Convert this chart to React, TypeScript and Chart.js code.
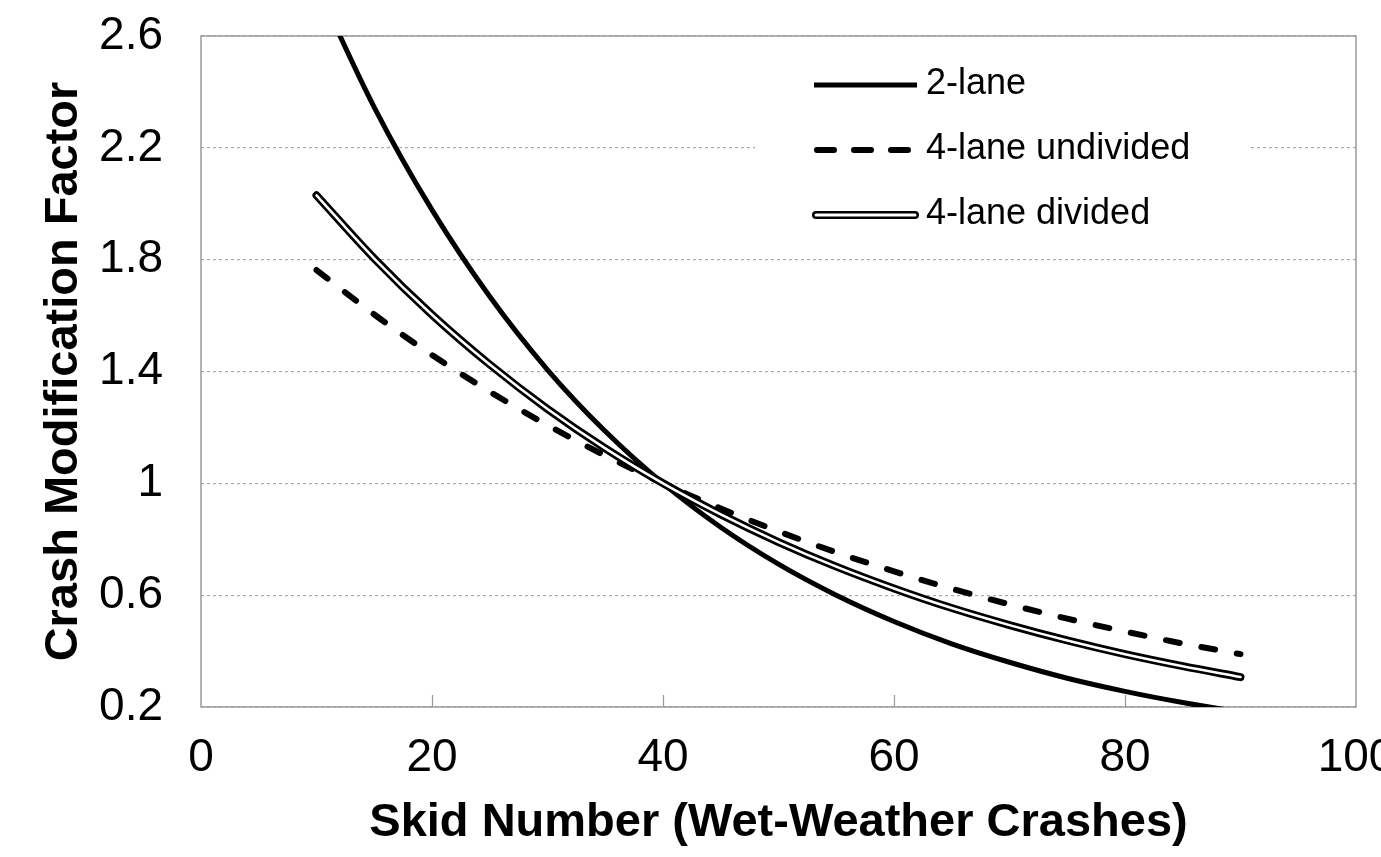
import React, { useEffect, useRef } from 'react';
import { Chart, registerables } from 'chart.js';

Chart.register(...registerables);

// ---- Data ----
const skidNumbers = [10, 15, 20, 25, 30, 35, 40, 45, 50, 55, 60, 65, 70, 75, 80, 85, 90];
const twoLaneCMF = [2.781, 2.345, 1.978, 1.668, 1.406, 1.186, 1.0, 0.843, 0.711, 0.6, 0.506, 0.426, 0.36, 0.303, 0.256, 0.216, 0.182];
const fourLaneUndividedCMF = [1.763, 1.604, 1.459, 1.328, 1.208, 1.099, 1.0, 0.91, 0.828, 0.753, 0.685, 0.623, 0.567, 0.516, 0.47, 0.427, 0.389];
const fourLaneDividedCMF = [2.03, 1.804, 1.603, 1.425, 1.266, 1.125, 1.0, 0.889, 0.79, 0.702, 0.624, 0.554, 0.493, 0.438, 0.389, 0.346, 0.307];
const xTickValues = [0, 20, 40, 60, 80, 100];
const yTickValues = [0.2, 0.6, 1, 1.4, 1.8, 2.2, 2.6];
const seriesNames = ['2-lane', '4-lane undivided', '4-lane divided'];
const xAxisTitle = 'Skid Number (Wet-Weather Crashes)';
const yAxisTitle = 'Crash Modification Factor';

const FONT = "'Liberation Sans', Arial, Helvetica, sans-serif";

const toPoints = (ys: number[]) => skidNumbers.map((x, i) => ({ x, y: ys[i] }));

const zeroPadding = (s: any) => {
  s.paddingLeft = 0;
  s.paddingRight = 0;
  s.paddingTop = 0;
  s.paddingBottom = 0;
};

const frameAndTicksPlugin = {
  id: 'frameAndTicks',
  beforeDatasetsDraw(chart: any) {
    const { ctx, chartArea } = chart;
    const xScale = chart.scales.x;
    ctx.save();
    ctx.strokeStyle = '#9a9a9a';
    ctx.lineWidth = 1.5;
    ctx.strokeRect(chartArea.left, chartArea.top, chartArea.right - chartArea.left, chartArea.bottom - chartArea.top);
    ctx.lineWidth = 1.2;
    xTickValues.forEach((v) => {
      if (v === xScale.min || v === xScale.max) return;
      const px = Math.round(xScale.getPixelForValue(v)) + 0.5;
      ctx.beginPath();
      ctx.moveTo(px, chartArea.bottom);
      ctx.lineTo(px, chartArea.bottom - 12);
      ctx.stroke();
    });
    ctx.restore();
  },
};

const legendPlugin = {
  id: 'insideLegend',
  afterDatasetsDraw(chart: any) {
    const { ctx } = chart;
    ctx.save();
    ctx.fillStyle = '#ffffff';
    ctx.fillRect(755, 52, 495, 195);
    const rows = [85, 150, 215];
    const x1 = 814;
    const x2 = 917;
    rows.forEach((y, i) => {
      ctx.lineCap = i === 0 ? 'butt' : 'round';
      ctx.setLineDash([]);
      if (i === 0) {
        ctx.strokeStyle = '#000';
        ctx.lineWidth = 5;
        ctx.beginPath();
        ctx.moveTo(x1, y);
        ctx.lineTo(x2, y);
        ctx.stroke();
      } else if (i === 1) {
        ctx.strokeStyle = '#000';
        ctx.lineWidth = 6;
        ctx.setLineDash([17, 20]);
        ctx.beginPath();
        ctx.moveTo(x1 + 3, y);
        ctx.lineTo(x2, y);
        ctx.stroke();
        ctx.setLineDash([]);
      } else {
        ctx.strokeStyle = '#000';
        ctx.lineWidth = 8;
        ctx.beginPath();
        ctx.moveTo(x1 + 2, y);
        ctx.lineTo(x2 - 2, y);
        ctx.stroke();
        ctx.strokeStyle = '#fff';
        ctx.lineWidth = 3;
        ctx.beginPath();
        ctx.moveTo(x1 + 2, y);
        ctx.lineTo(x2 - 2, y);
        ctx.stroke();
      }
      ctx.fillStyle = '#000';
      ctx.font = `36px ${FONT}`;
      ctx.textAlign = 'left';
      ctx.textBaseline = 'middle';
      ctx.fillText(seriesNames[i], 926, y - 1);
    });
    ctx.restore();
  },
};

export default function App() {
  const canvasRef = useRef<HTMLCanvasElement | null>(null);

  useEffect(() => {
    if (!canvasRef.current) return;
    const chart = new Chart(canvasRef.current, {
      type: 'line',
      data: {
        datasets: [
          {
            label: seriesNames[0],
            data: toPoints(twoLaneCMF),
            borderColor: '#000',
            borderWidth: 5,
            pointRadius: 0,
            cubicInterpolationMode: 'monotone',
            clip: 0,
            order: 1,
          },
          {
            label: seriesNames[1],
            data: toPoints(fourLaneUndividedCMF),
            borderColor: '#000',
            borderWidth: 6,
            borderDash: [14, 22],
            borderCapStyle: 'round',
            pointRadius: 0,
            cubicInterpolationMode: 'monotone',
            clip: 0,
            order: 2,
          },
          {
            label: seriesNames[2],
            data: toPoints(fourLaneDividedCMF),
            borderColor: '#000',
            borderWidth: 8,
            borderCapStyle: 'round',
            pointRadius: 0,
            cubicInterpolationMode: 'monotone',
            clip: 0,
            order: 3,
          },
          {
            label: seriesNames[2] + ' (inner)',
            data: toPoints(fourLaneDividedCMF),
            borderColor: '#fff',
            borderWidth: 2.5,
            borderCapStyle: 'round',
            pointRadius: 0,
            cubicInterpolationMode: 'monotone',
            clip: 0,
            order: 0,
          },
        ],
      } as any,
      options: {
        responsive: false,
        animation: false,
        events: [],
        layout: { padding: { top: 36, right: 25, left: 0, bottom: 0 }, autoPadding: false },
        plugins: {
          legend: { display: false },
          tooltip: { enabled: false },
          title: { display: false },
        },
        scales: {
          x: {
            type: 'linear',
            min: 0,
            max: 100,
            afterBuildTicks: (s: any) => {
              s.ticks = xTickValues.map((v) => ({ value: v }));
            },
            afterFit: (s: any) => {
              s.height = 150;
              zeroPadding(s);
            },
            ticks: {
              font: { family: FONT, size: 46 },
              color: '#000',
              padding: 24,
              maxRotation: 0,
              autoSkip: false,
              callback: (v: any) => String(v),
            },
            grid: { display: false, drawTicks: false },
            border: { display: false },
            title: {
              display: true,
              text: xAxisTitle,
              color: '#000',
              font: { family: FONT, size: 47, weight: 'bold' },
              padding: { top: 0, bottom: 6 },
            },
          },
          y: {
            type: 'linear',
            min: 0.2,
            max: 2.6,
            afterBuildTicks: (s: any) => {
              s.ticks = yTickValues.map((v) => ({ value: v }));
            },
            afterFit: (s: any) => {
              s.width = 201;
              zeroPadding(s);
            },
            ticks: {
              font: { family: FONT, size: 46 },
              color: '#000',
              padding: 38,
              autoSkip: false,
              callback: (v: any) => String(v),
            },
            grid: { color: '#a8a8a8', lineWidth: 1.2, drawTicks: false },
            border: { display: false, dash: [3, 3] },
            title: {
              display: true,
              text: yAxisTitle,
              color: '#000',
              font: { family: FONT, size: 47, weight: 'bold' },
              padding: { top: 36, bottom: 0 },
            },
          },
        },
      } as any,
      plugins: [frameAndTicksPlugin, legendPlugin],
    });
    return () => chart.destroy();
  }, []);

  return (
    <div style={{ position: 'fixed', left: 0, top: 0, width: 1381, height: 857, background: '#fff' }}>
      <canvas ref={canvasRef} width={1381} height={857} style={{ display: 'block' }} />
    </div>
  );
}
